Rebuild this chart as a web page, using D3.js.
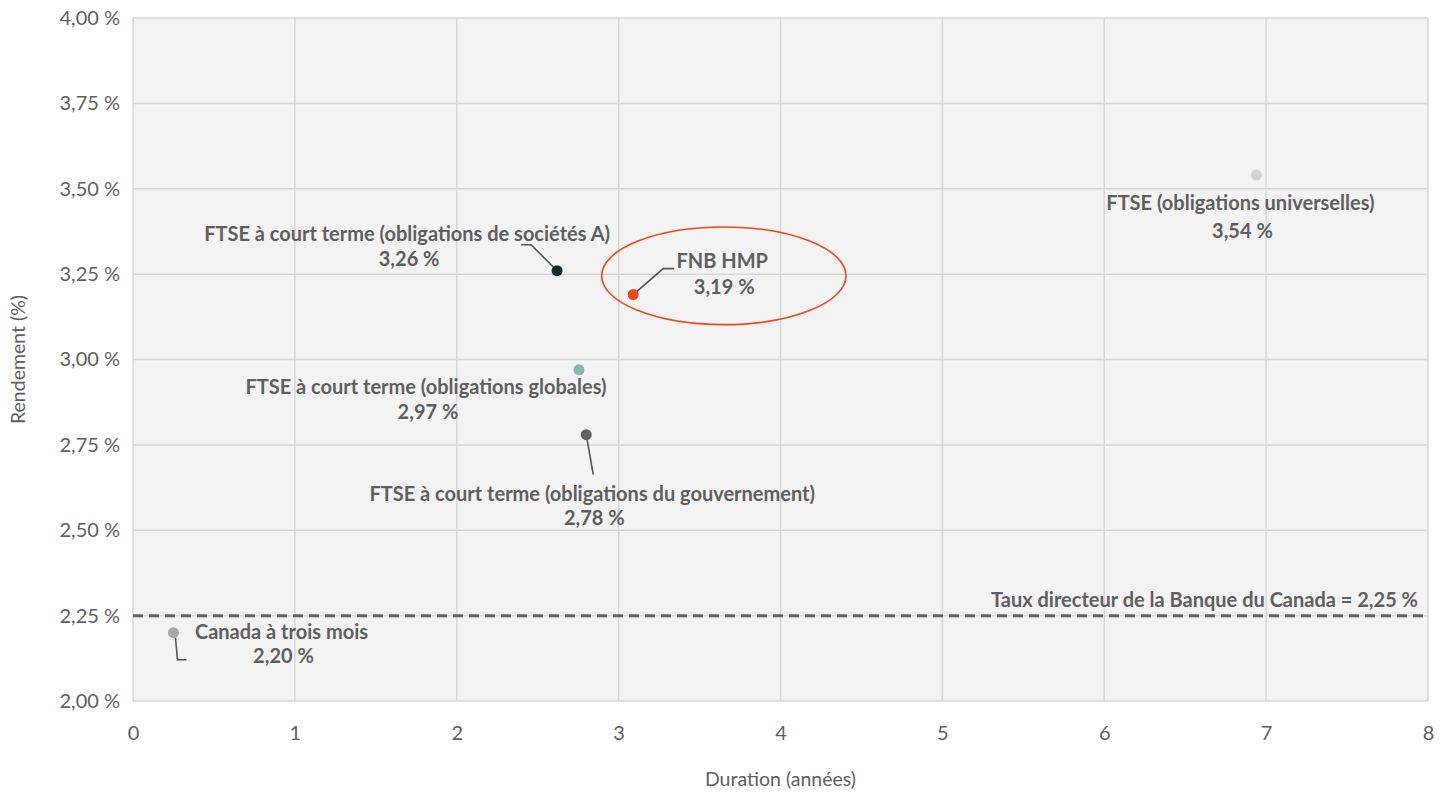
<!DOCTYPE html>
<html>
<head>
<meta charset="utf-8">
<script src="https://cdn.jsdelivr.net/npm/d3@7"></script>
<style>
  html, body { margin: 0; padding: 0; background: #ffffff; }
  svg { display: block; font-family: Lato, "Open Sans", sans-serif; }
</style>
</head>
<body>
<svg id="chart" width="1448" height="794"></svg>
<script>
// ---------------- DATA ----------------
const names = [
  "Canada à trois mois",
  "FTSE à court terme (obligations de sociétés A)",
  "FNB HMP",
  "FTSE à court terme (obligations globales)",
  "FTSE à court terme (obligations du gouvernement)",
  "FTSE (obligations universelles)"
];
const durations = [0.25, 2.62, 3.09, 2.755, 2.80, 6.94];
const yields    = [2.20, 3.26, 3.19, 2.97, 2.78, 3.54];
const policyRate = 2.25;
const policyLabel = "Taux directeur de la Banque du Canada = ";
const xTicks = [0, 1, 2, 3, 4, 5, 6, 7, 8];
const yTicks = [2.00, 2.25, 2.50, 2.75, 3.00, 3.25, 3.50, 3.75, 4.00];
const xTitle = "Duration (années)";
const yTitle = "Rendement (%)";
// highlight ellipse around FNB HMP (data units: centre duration, centre yield, half-width, half-height)
const highlight = { cx: 3.65, cy: 3.245, rx: 0.755, ry: 0.143 };

// ---------------- STYLE / LAYOUT ----------------
const colors = ["#a8a8a8", "#0e2a30", "#f0461b", "#86b5b7", "#606060", "#d2d2d2"];
// label anchor offsets (pixels, relative to point) and leader lines
const layout = [
  { dx: 108, dy: 6,   gap: 24, leader: [[2, 5], [4, 27], [13, 27]] },
  { dx: -150, dy: -30, gap: 25, leader: [[0, 0], [-26, -26], [-36, -26]] },
  { dx: 89,  dy: -27, gap: 26, leader: [[0, 0], [30, -26], [41, -26]] },
  { dx: -153, dy: 24, gap: 25, leader: null },
  { dx: 6,   dy: 66,  gap: 24, leader: [[0, 0], [7, 40]] },
  { dx: -16, dy: 35,  gap: 28, leader: null }
];

const W = 1448, H = 794;
const margin = { left: 133, right: 20, top: 18, bottom: 93 };
const svg = d3.select("#chart");

const x = d3.scaleLinear().domain([0, 8]).range([margin.left, W - margin.right]);
const y = d3.scaleLinear().domain([2, 4]).range([H - margin.bottom, margin.top]);

const fmt = v => d3.format(".2f")(v).replace(".", ",") + " %";
const textColor = "#5f5f5f";
const gridColor = "#d7d7d7";

// plot background
svg.append("rect")
  .attr("x", x(0)).attr("y", y(4))
  .attr("width", x(8) - x(0)).attr("height", y(2) - y(4))
  .attr("fill", "#f3f3f3");

// grid
svg.append("g").selectAll("line").data(xTicks).join("line")
  .attr("x1", d => x(d)).attr("x2", d => x(d))
  .attr("y1", y(4)).attr("y2", y(2))
  .attr("stroke", gridColor).attr("stroke-width", 1.5);
svg.append("g").selectAll("line").data(yTicks).join("line")
  .attr("x1", x(0)).attr("x2", x(8))
  .attr("y1", d => y(d)).attr("y2", d => y(d))
  .attr("stroke", gridColor).attr("stroke-width", 1.5);

// axes (labels only)
const xAxis = d3.axisBottom(x).tickValues(xTicks).tickFormat(d3.format("d")).tickSize(0).tickPadding(25);
const gx = svg.append("g").attr("transform", `translate(0,${y(2)})`).call(xAxis);
gx.select(".domain").remove();
gx.selectAll("text").attr("fill", textColor).style("font-size", "20px").style("font-family", "Lato");

const yAxis = d3.axisLeft(y).tickValues(yTicks).tickFormat(fmt).tickSize(0).tickPadding(13);
const gy = svg.append("g").attr("transform", `translate(${x(0)},0)`).call(yAxis);
gy.select(".domain").remove();
gy.selectAll("text").attr("fill", textColor).style("font-size", "20px").style("font-family", "Lato");

// axis titles
svg.append("text")
  .attr("x", (x(0) + x(8)) / 2).attr("y", 786)
  .attr("text-anchor", "middle").attr("fill", textColor)
  .style("font-size", "19.5px").text(xTitle);
svg.append("text")
  .attr("transform", `translate(25,${(y(2) + y(4)) / 2}) rotate(-90)`)
  .attr("text-anchor", "middle").attr("fill", textColor)
  .style("font-size", "19.5px").text(yTitle);

// policy rate dashed line
svg.append("line")
  .attr("x1", x(0)).attr("x2", x(8))
  .attr("y1", y(policyRate)).attr("y2", y(policyRate))
  .attr("stroke", "#636363").attr("stroke-width", 3)
  .attr("stroke-dasharray", "10,6");
const pt = svg.append("text")
  .attr("x", x(8) - 10).attr("y", y(policyRate) - 9)
  .attr("text-anchor", "end").attr("fill", textColor)
  .style("font-size", "20px").style("font-weight", 700);
pt.append("tspan").text(policyLabel);
pt.append("tspan").text(fmt(policyRate));

// highlight ellipse
svg.append("ellipse")
  .attr("cx", x(highlight.cx)).attr("cy", y(highlight.cy))
  .attr("rx", x(highlight.rx) - x(0)).attr("ry", y(2) - y(2 + highlight.ry))
  .attr("fill", "none").attr("stroke", "#f0461b").attr("stroke-width", 1.6);

// points, leaders, labels
const pts = names.map((n, i) => ({ name: n, dur: durations[i], yld: yields[i], color: colors[i], lay: layout[i] }));

const line = d3.line();
svg.append("g").selectAll("path").data(pts.filter(d => d.lay.leader)).join("path")
  .attr("d", d => line(d.lay.leader.map(p => [x(d.dur) + p[0], y(d.yld) + p[1]])))
  .attr("fill", "none").attr("stroke", "#555").attr("stroke-width", 1.6);

svg.append("g").selectAll("circle").data(pts).join("circle")
  .attr("cx", d => x(d.dur)).attr("cy", d => y(d.yld)).attr("r", 5.5)
  .attr("fill", d => d.color);

const lab = svg.append("g").selectAll("text").data(pts).join("text")
  .attr("text-anchor", "middle").attr("fill", textColor)
  .style("font-size", "20px").style("font-weight", 700)
  .attr("transform", d => `translate(${x(d.dur) + d.lay.dx},${y(d.yld) + d.lay.dy})`);
lab.append("tspan").attr("x", 0).attr("y", 0).text(d => d.name);
lab.append("tspan").attr("x", 2).attr("y", d => d.lay.gap).text(d => fmt(d.yld));
</script>
</body>
</html>
